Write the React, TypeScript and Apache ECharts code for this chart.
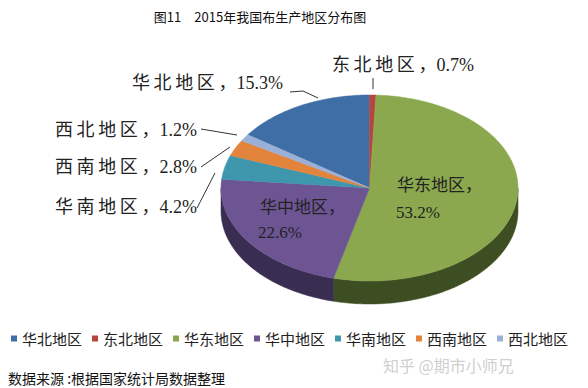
import React, { useEffect, useRef } from "react";
import * as echarts from "echarts";

const categories = ["华北地区", "东北地区", "华东地区", "华中地区", "华南地区", "西南地区", "西北地区"];
const shares = [15.3, 0.7, 53.2, 22.6, 4.2, 2.8, 1.2];
const topColors = ["#3F6EA6", "#B5463F", "#8BA84F", "#6D5594", "#3F97AE", "#E2843C", "#9BB0D8"];
const sideColors = ["#1F3A5C", "#5E2420", "#3C4E22", "#3A2D52", "#1F4E5A", "#7A4318", "#4F5F80"];
const titleText = "图11　2015年我国布生产地区分布图";
const sourceText = "数据来源 :根据国家统计局数据整理";
const watermark = "知乎 @期市小师兄";

const CX = 369.5;
const CY = 188;
const RX = 148.5;
const RY = 93;
const DEPTH = 23;

const total = shares.reduce((a, b) => a + b, 0);
const startAngle = (-shares[0] / total) * Math.PI * 2;

function pt(a: number, dy = 0): number[] {
  return [CX + RX * Math.sin(a), CY - RY * Math.cos(a) + dy];
}

function arc(a0: number, a1: number, dy = 0): number[][] {
  const pts: number[][] = [];
  const n = Math.max(2, Math.ceil(Math.abs(a1 - a0) / (Math.PI / 180)));
  for (let k = 0; k <= n; k++) pts.push(pt(a0 + ((a1 - a0) * k) / n, dy));
  return pts;
}

function spaced(s: string) {
  return s.split("").join("\u2009");
}

const labelFont = "18px 'Liberation Serif', 'Noto Sans CJK SC'";
const innerFont = "17px 'Liberation Serif', 'Noto Sans CJK SC'";

function outLabel(i: number) {
  return spaced(categories[i]) + "\u2009，" + shares[i].toFixed(1) + "%";
}

export default function App() {
  const ref = useRef<HTMLDivElement>(null);
  useEffect(() => {
    document.body.style.margin = "0";
    const chart = echarts.init(ref.current!, null, { renderer: "svg" });
    const series = categories.map((name, i) => {
      const cum = shares.slice(0, i).reduce((a, b) => a + b, 0);
      return {
        type: "custom",
        name,
        coordinateSystem: "none",
        z: 2,
        itemStyle: { color: topColors[i] },
        data: [[shares[i]]],
        renderItem: (params: any, api: any) => {
          const v = api.value(0);
          const a0 = startAngle + (cum / total) * Math.PI * 2;
          const a1 = a0 + (v / total) * Math.PI * 2;
          const children: any[] = [];
          const s0 = Math.max(a0, Math.PI / 2);
          const s1 = Math.min(a1, (Math.PI * 3) / 2);
          if (s1 > s0) {
            const up = arc(s0, s1);
            const down = arc(s0, s1, DEPTH).reverse();
            children.push({
              type: "polygon",
              z2: 1,
              shape: { points: up.concat(down) },
              style: { fill: sideColors[i], stroke: sideColors[i], lineWidth: 0.5 },
            });
          }
          children.push({
            type: "polygon",
            z2: 2,
            shape: { points: [[CX, CY]].concat(arc(a0, a1)) },
            style: { fill: topColors[i], stroke: topColors[i], lineWidth: 0.5 },
          });
          return { type: "group", children };
        },
      };
    });

    const txt = (text: string, x: number, y: number, font: string, fill = "#222", align = "left") => ({
      type: "text",
      z: 100,
      style: { text, x, y, font, fill, align, verticalAlign: "middle" },
    });
    const line = (points: number[][]) => ({
      type: "polyline",
      z: 100,
      shape: { points },
      style: { stroke: "#333", lineWidth: 1, fill: null },
    });

    chart.setOption({
      animation: false,
      legend: {
        data: categories,
        left: 11,
        top: 331,
        padding: 0,
        icon: "rect",
        itemWidth: 6,
        itemHeight: 6,
        itemGap: 10,
        textStyle: { fontSize: 15, color: "#222", fontFamily: "'Noto Sans CJK SC'" },
      },
      series,
      graphic: [
        txt(titleText, 260, 16, "13px 'Noto Sans CJK SC'", "#111", "center"),
        txt(outLabel(0), 132, 83, labelFont),
        line([[290, 92], [303, 91], [318, 98]]),
        txt(outLabel(1), 332, 65, labelFont),
        line([[373, 78], [373, 89]]),
        txt(outLabel(6), 55, 130, labelFont),
        line([[201, 129], [237, 135]]),
        txt(outLabel(5), 55, 167, labelFont),
        line([[201, 167], [230, 147]]),
        txt(outLabel(4), 55, 207, labelFont),
        line([[197, 208], [215, 173]]),
        txt(categories[2] + "，", 397, 185, innerFont),
        txt(shares[2].toFixed(1) + "%", 396, 212, innerFont),
        txt(categories[3] + "，", 260, 207, innerFont),
        txt(shares[3].toFixed(1) + "%", 258, 232, innerFont),
        txt(sourceText, 8, 378, "14px 'Noto Sans CJK SC'", "#111"),
        txt(watermark, 383, 365, "16px 'Noto Sans CJK SC'", "#cfcfcf"),
      ],
    });
    return () => chart.dispose();
  }, []);
  return <div ref={ref} style={{ width: 588, height: 388 }} />;
}
